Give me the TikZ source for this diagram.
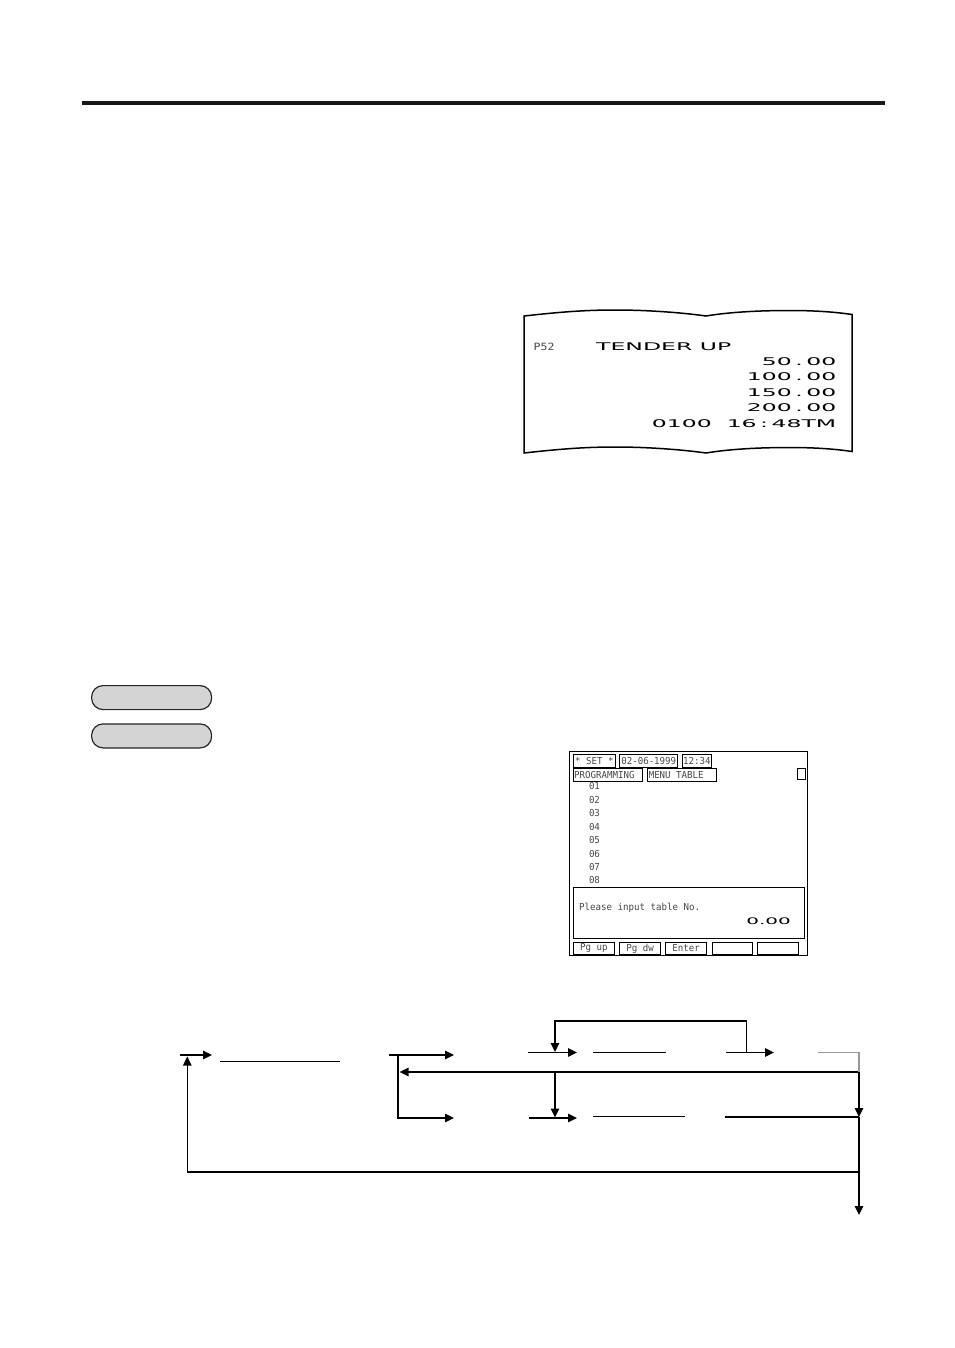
\documentclass[tikz,border=0pt]{standalone}
\usepackage{fontspec}
\usepackage{tikz}
\usetikzlibrary{arrows.meta, positioning}
\newfontfamily\scrfont[FakeStretch=0.95]{DejaVu Sans Mono}
\newfontfamily\pnofont[FakeStretch=1.15]{DejaVu Sans Mono}
\newfontfamily\slipfont[FakeStretch=2.22]{DejaVu Sans}
\newcommand\slipdot{\kern3.5pt.\kern3.5pt}
\newcommand\slipcolon{\kern3.5pt:\kern3.5pt}

\tikzset{
  flow/.style={line width=1.2pt},
  flowarrow/.style={flow, -{Triangle[length=9pt,width=8.5pt]}},
  keypill/.style={draw=black!85, line width=1.2pt, fill=black!17, rounded corners=11.5pt,
    minimum width=120pt, minimum height=24pt, inner sep=0pt},
  scrbox/.style={draw, line width=0.9pt, inner sep=1pt, minimum height=12.6pt,
    font=\scrfont\fontsize{9.6}{10}\selectfont, text=black!72},
  scrbutton/.style={draw, line width=0.9pt, inner sep=0pt, minimum height=12.6pt,
    font=\scrfont\fontsize{9.6}{10}\selectfont, text=black!72},
  scrtext/.style={inner sep=0pt, font=\scrfont\fontsize{9.6}{10}\selectfont, text=black!72},
  sliptext/.style={inner sep=0pt, font=\slipfont\fontsize{10.6}{12}\selectfont},
}

\begin{document}
\begin{tikzpicture}[x=1pt, y=-1pt]
\useasboundingbox (0,0) rectangle (954,1348);

\fill [black!90] (82,101) rectangle (885,105);

% receipt
\draw [line width=1.5pt] (524,316) .. controls (560,312) and (585,310) .. (615,310)
  .. controls (650,310) and (685,313) .. (706,316)
  .. controls (730,312) and (760,310.5) .. (790,310.5)
  .. controls (815,310.5) and (835,312) .. (852,314.5)
  -- (852,451.5)
  .. controls (835,449) and (815,447.5) .. (790,447.5)
  .. controls (760,447.5) and (730,449) .. (706,453)
  .. controls (685,450) and (650,447) .. (615,447)
  .. controls (585,447) and (560,449) .. (524,453) -- cycle;

\node [inner sep=0pt, anchor=base west, font=\pnofont\fontsize{10}{11}\selectfont, text=black!72]
  (pno) at (533.5,350) {P52};
\node [sliptext, anchor=base west] (title) at (596,350) {TENDER UP};
\node [sliptext, anchor=base east] (amt1) at (836.5,365.3) {50\slipdot00};
\node [sliptext, anchor=base east] (amt2) at (836.5,380.5) {100\slipdot00};
\node [sliptext, anchor=base east] (amt3) at (836.5,396.3) {150\slipdot00};
\node [sliptext, anchor=base east] (amt4) at (836.5,411.3) {200\slipdot00};
\node [sliptext, anchor=base east] (stamp) at (836.5,427.3) {0100 \kern7.5pt16\slipcolon48TM};

% mode keys
\node [keypill, anchor=north west] (modekey) at (91,685) {};
\node [keypill, anchor=north west] (setkey) at (91,723.3) {};

% screen
\node [draw, line width=1pt, inner sep=0pt, minimum width=237.4pt, minimum height=204pt,
  anchor=north west] (screen) at (569.3,751) {};
\node [scrbox, anchor=north west] (modebox) at (572.7,754) {\makebox[40.3pt][c]{* SET *}};
\node [scrbox, anchor=north west] (datebox) at (619.3,754) {\makebox[56pt][c]{02-06-1999}};
\node [scrbox, anchor=north west] (timebox) at (682,754) {\makebox[27pt][c]{12:34}};
\node [scrbox, anchor=north west] (jobbox) at (572.7,768) {\makebox[67.3pt][l]{PROGRAMMING}};
\node [scrbox, anchor=north west] (tablebox) at (647.3,768) {\makebox[66.7pt][l]{MENU TABLE}};
\node [draw, line width=0.9pt, inner sep=0pt, minimum width=7.7pt, minimum height=11pt,
  anchor=north west] (scrollbox) at (797.3,768) {};

\node [scrtext, anchor=base west] (row1) at (588.8,789.8) {01};
\node [scrtext, anchor=base west] (row2) at (588.8,803.2) {02};
\node [scrtext, anchor=base west] (row3) at (588.8,816.7) {03};
\node [scrtext, anchor=base west] (row4) at (588.8,830.1) {04};
\node [scrtext, anchor=base west] (row5) at (588.8,843.5) {05};
\node [scrtext, anchor=base west] (row6) at (588.8,857.0) {06};
\node [scrtext, anchor=base west] (row7) at (588.8,870.4) {07};
\node [scrtext, anchor=base west] (row8) at (588.8,883.8) {08};

\node [draw, line width=0.9pt, inner sep=0pt, minimum width=231.6pt, minimum height=51.6pt,
  anchor=north west] (msgbox) at (572.7,886.7) {};
\node [scrtext, anchor=base west] (prompt) at (579,910.5) {Please input table No.};
\node [inner sep=0pt, anchor=base east, font=\slipfont\fontsize{9}{10}\selectfont]
  (entry) at (791,924) {0.00};

\node [scrbutton, minimum width=41.3pt, anchor=north west] (pgup) at (572.7,941.7) {Pg up};
\node [scrbutton, minimum width=40.7pt, anchor=north west] (pgdw) at (619.3,941.7) {Pg dw};
\node [scrbutton, minimum width=40.7pt, anchor=north west] (enter) at (665.3,941.7) {Enter};
\node [scrbutton, minimum width=40pt, anchor=north west] (fkey4) at (711.7,941.7) {};
\node [scrbutton, minimum width=40.4pt, anchor=north west] (fkey5) at (757.3,941.7) {};

% flow chart
\coordinate (start) at (180,1055);
\coordinate (startend) at (212,1055);
\coordinate (ulonea) at (220,1061.5);
\coordinate (uloneb) at (340,1061.5);
\coordinate (split) at (389,1055);
\coordinate (splitjoin) at (398,1055);
\coordinate (uparr) at (454,1055);
\coordinate (lowarr) at (454,1118);
\coordinate (retright) at (859,1072);
\coordinate (retleft) at (399.5,1072);
\coordinate (loopin) at (528,1052.5);
\coordinate (looptip) at (577,1052.5);
\coordinate (loopstart) at (746.5,1052.5);
\coordinate (looptop) at (746.5,1021);
\coordinate (loopdrop) at (555,1052);
\coordinate (ultwoa) at (593,1052.5);
\coordinate (ultwob) at (666,1052.5);
\coordinate (outa) at (726,1052.5);
\coordinate (outb) at (774,1052.5);
\coordinate (greya) at (818,1052.5);
\coordinate (dropa) at (555,1072);
\coordinate (dropb) at (555,1117.5);
\coordinate (lowin) at (529,1118);
\coordinate (lowtip) at (577,1118);
\coordinate (ulthreea) at (593,1116.5);
\coordinate (ulthreeb) at (685,1116.5);
\coordinate (ulfoura) at (725,1117);
\coordinate (ulfourb) at (859,1117);
\coordinate (backcorner) at (859,1172);
\coordinate (backtip) at (187.3,1056.5);
\coordinate (exit) at (859,1215);

\draw [flowarrow] (start) -- (startend);
\draw [flow] (ulonea) -- (uloneb);
\draw [flowarrow] (split) -- (uparr);
\draw [flowarrow] (splitjoin) |- (lowarr);
\draw [flowarrow] (retright) -- (retleft);
\draw [flowarrow] (loopin) -- (looptip);
\draw [flowarrow] (loopstart) -- (looptop) -| (loopdrop);
\draw [flow] (ultwoa) -- (ultwob);
\draw [flowarrow] (outa) -- (outb);
\draw [flow, black!40] (greya) -| (retright);
\draw [flowarrow] (dropa) -- (dropb);
\draw [flowarrow] (lowin) -- (lowtip);
\draw [flow] (ulthreea) -- (ulthreeb);
\draw [flow] (ulfoura) -- (ulfourb);
\draw [flowarrow] (retright) -- (ulfourb);
\draw [flow] (ulfourb) -- (backcorner);
\draw [flowarrow] (backcorner) -| (backtip);
\draw [flowarrow] (backcorner) -- (exit);
\end{tikzpicture}
\end{document}
